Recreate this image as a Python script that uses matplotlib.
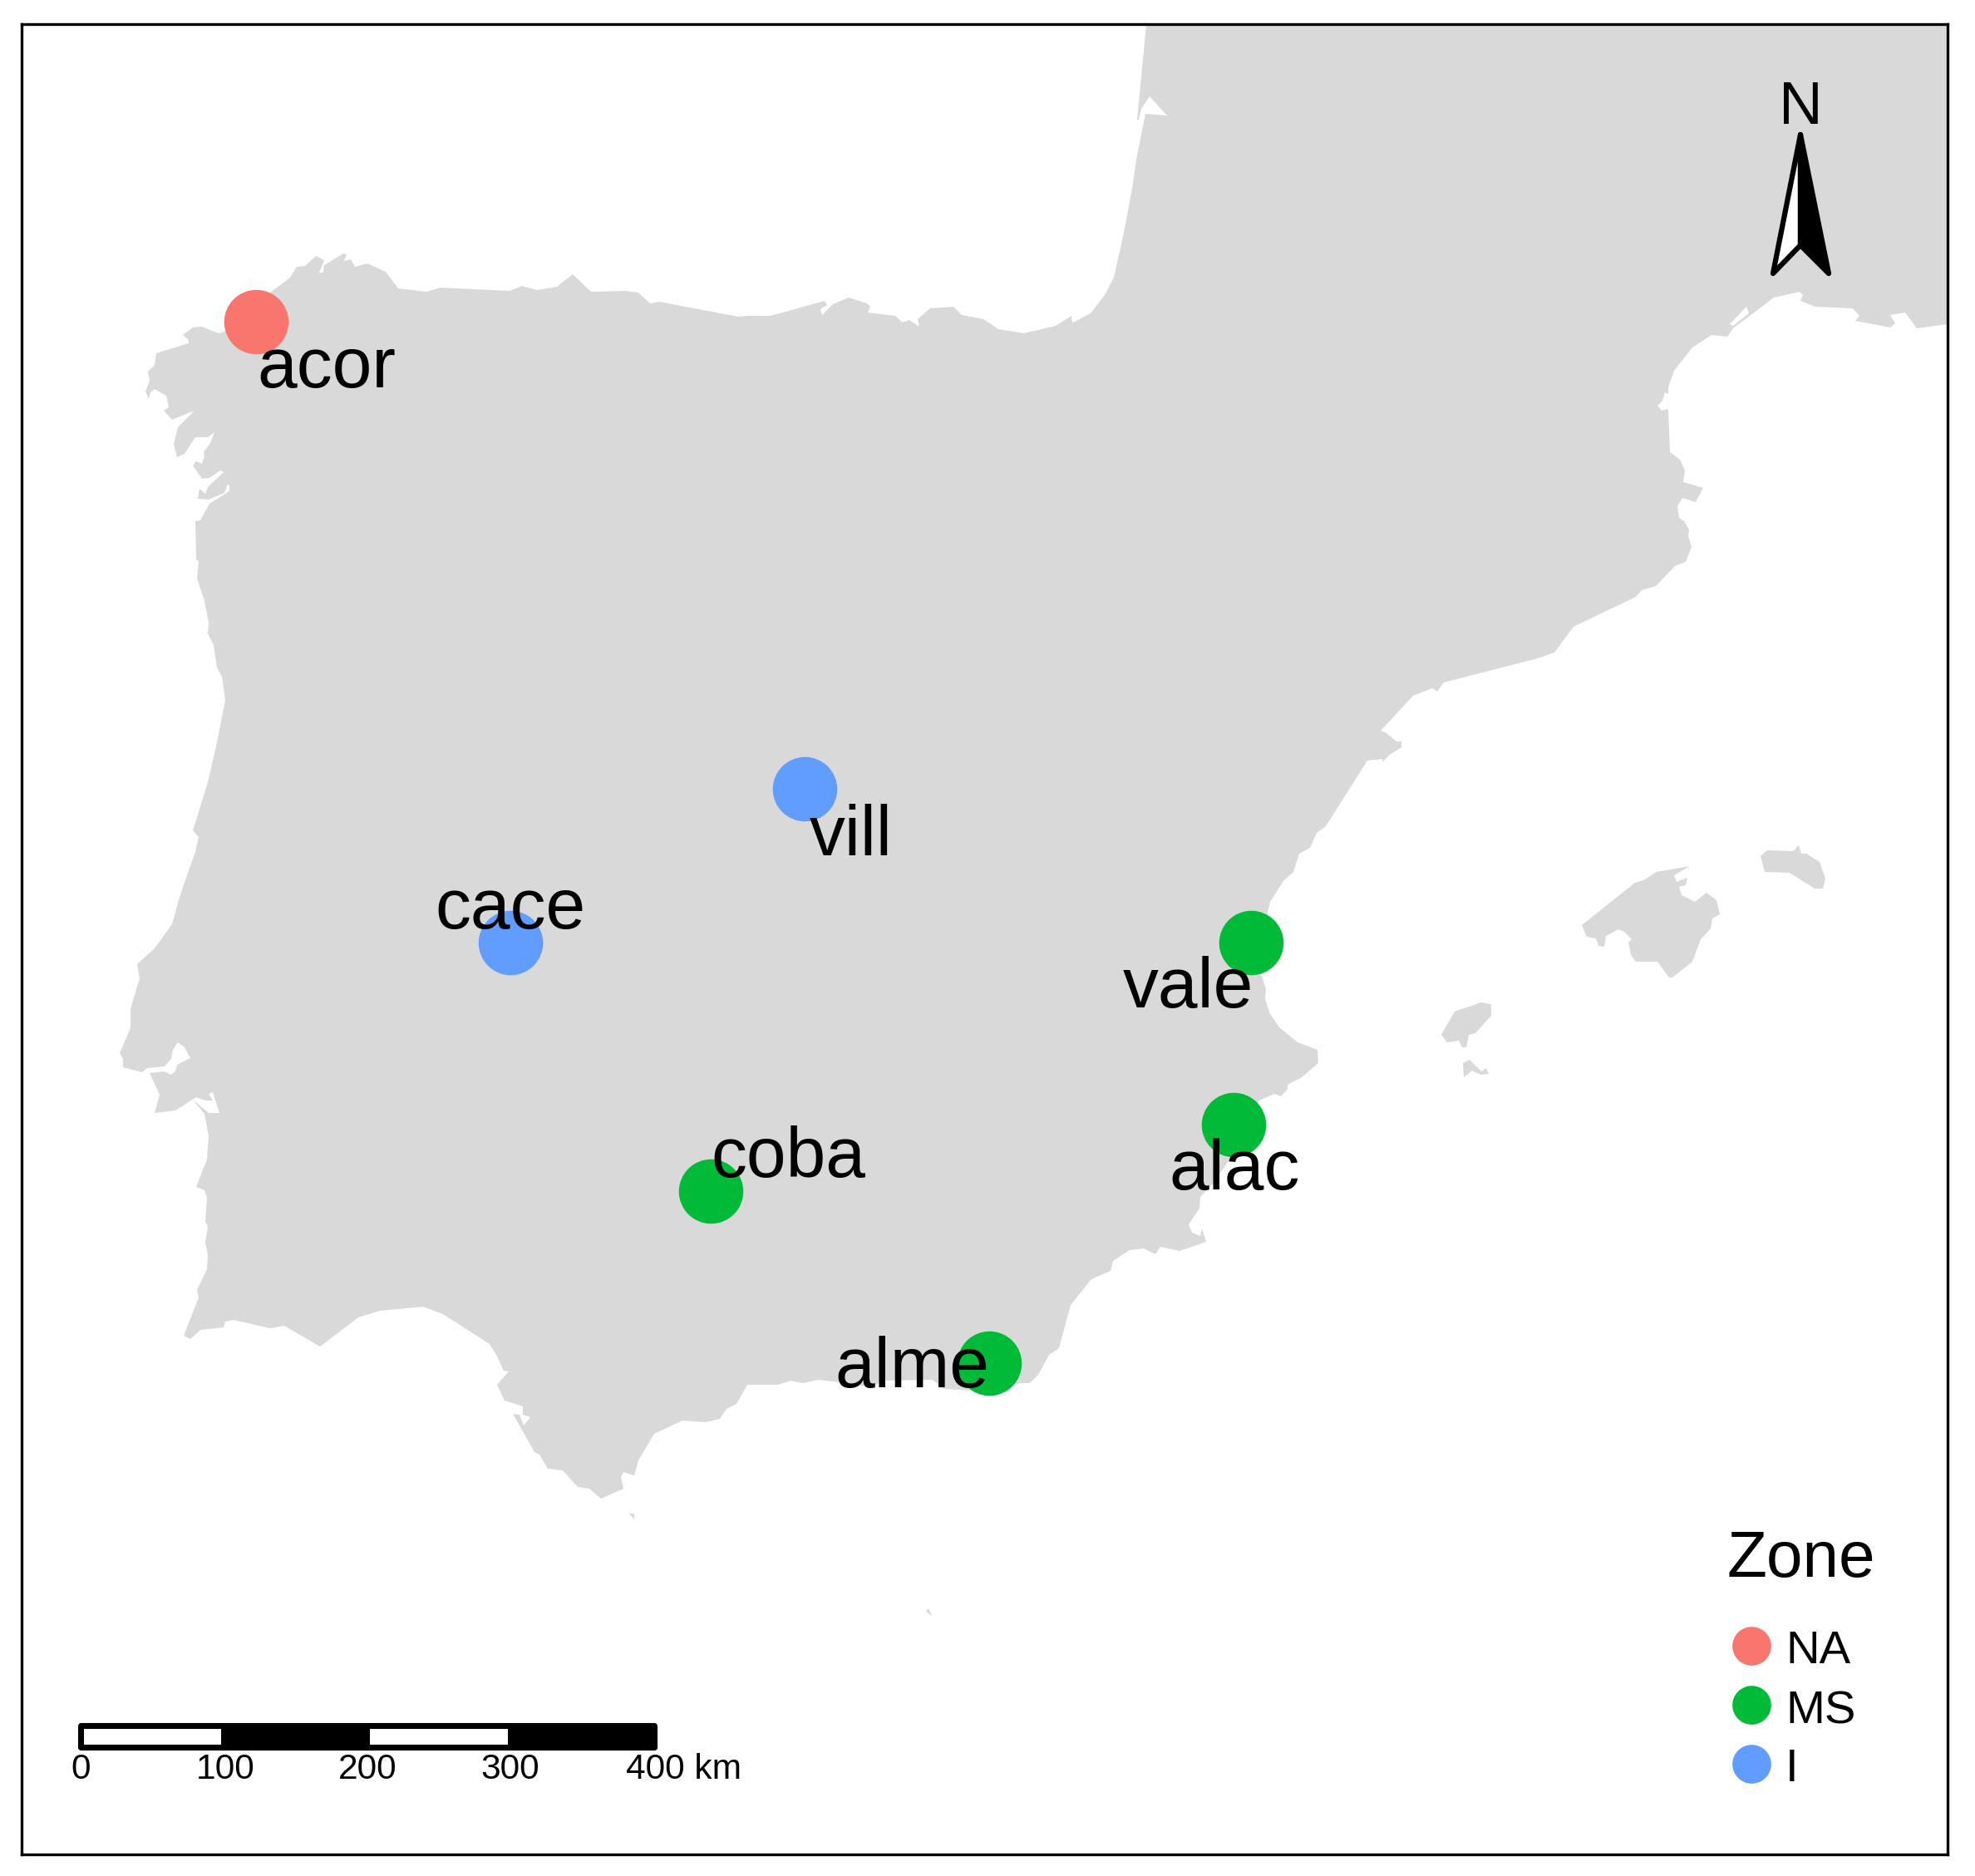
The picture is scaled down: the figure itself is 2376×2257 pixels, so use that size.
import matplotlib
matplotlib.use("Agg")
import matplotlib.pyplot as plt
from matplotlib.patches import Polygon, Rectangle

plt.rcParams["font.family"] = ["Liberation Sans"]

LAND_COLOR = "#D9D9D9"
FRAME = (25.5, 2343.0, 2231.0, 29.0)  # left, right, bottom, top in map units

# Coastline (map units, y grows southwards).
mainland = [
    (1380, 20), (1368, 144), (1370, 144), (1373, 131), (1383, 116), (1404, 139), (1378, 137),
    (1367, 192), (1362, 227), (1352, 280), (1340, 334), (1329, 355), (1312, 377), (1293, 387),
    (1290, 388), (1289, 380), (1270, 392), (1232, 401), (1201, 396), (1188, 387), (1183, 384),
    (1157, 379), (1147, 369), (1119, 371), (1112, 377), (1104, 384), (1106, 393), (1094, 385),
    (1086, 388), (1077, 380), (1044, 376), (1047, 369), (1043, 365), (1021, 358), (1002, 366),
    (989, 379), (987, 372), (995, 367), (992, 362), (938, 377), (926, 380), (900, 380),
    (888, 381), (793, 363), (782, 365), (768, 352), (752, 350), (711, 351), (689, 330),
    (670, 345), (646, 349), (628, 344), (613, 350), (530, 346), (513, 351), (479, 347),
    (464, 327), (442, 317), (427, 321), (422, 312), (414, 314), (417, 306), (413, 305),
    (390, 319), (389, 328), (384, 328), (390, 313), (380, 308), (367, 320), (357, 321),
    (349, 334), (326, 351), (270, 399), (263, 401), (243, 393), (232, 394), (220, 403),
    (227, 409), (227, 413), (188, 425), (186, 439), (178, 447), (180, 458), (175, 471),
    (179, 480), (181, 472), (186, 468), (200, 476), (203, 490), (197, 494), (207, 505),
    (234, 494), (214, 514), (209, 534), (213, 550), (222, 546), (235, 526), (250, 526),
    (258, 520), (253, 533), (245, 544), (246, 549), (243, 558), (236, 555), (232, 560),
    (243, 576), (252, 575), (265, 566), (269, 568), (250, 586), (247, 594), (240, 588),
    (238, 600), (251, 601), (270, 593), (273, 584), (276, 583), (276, 591), (252, 606),
    (241, 626), (235, 627), (236, 673), (239, 675), (237, 696), (246, 723), (251, 749),
    (250, 762), (257, 776), (261, 803), (267, 814), (271, 842), (260, 898), (250, 941),
    (238, 980), (232, 999), (239, 1007), (235, 1025), (217, 1076), (207, 1112), (186, 1141),
    (165, 1160), (168, 1177), (157, 1214), (157, 1237), (144, 1267), (148, 1274), (148, 1284),
    (171, 1290), (177, 1285), (198, 1283), (206, 1274), (208, 1263), (214, 1254), (222, 1260),
    (229, 1273), (213, 1281), (211, 1289), (205, 1293), (198, 1289), (180, 1291), (192, 1317),
    (186, 1339), (211, 1336), (236, 1320), (247, 1324), (256, 1324), (251, 1316), (256, 1314),
    (264, 1339), (251, 1339), (232, 1323), (246, 1340), (251, 1366), (249, 1395), (236, 1428),
    (246, 1432), (249, 1441), (247, 1470), (250, 1475), (247, 1495), (250, 1510), (249, 1527),
    (237, 1552), (239, 1561), (221, 1607), (229, 1611), (241, 1600), (269, 1597), (271, 1590),
    (281, 1588), (325, 1598), (342, 1595), (385, 1620), (431, 1585), (457, 1577), (509, 1572),
    (533, 1581), (589, 1617), (597, 1630), (606, 1649), (612, 1650), (598, 1666), (607, 1685),
    (629, 1692), (629, 1702), (638, 1705), (630, 1715), (625, 1702), (617, 1701), (643, 1747),
    (649, 1750), (659, 1767), (677, 1769), (695, 1789), (709, 1791), (723, 1803), (750, 1791),
    (747, 1777), (750, 1771), (763, 1775), (768, 1757), (787, 1725), (821, 1709), (849, 1711),
    (866, 1707), (874, 1695), (886, 1689), (899, 1666), (936, 1666), (951, 1661), (966, 1664),
    (984, 1660), (1010, 1663), (1048, 1669), (1063, 1661), (1122, 1660), (1135, 1671),
    (1170, 1673), (1229, 1664), (1239, 1664), (1249, 1654), (1262, 1630), (1274, 1622),
    (1288, 1570), (1313, 1539), (1336, 1529), (1339, 1517), (1359, 1504), (1376, 1502),
    (1390, 1509), (1396, 1500), (1419, 1505), (1451, 1494), (1446, 1478), (1444, 1487),
    (1434, 1483), (1430, 1473), (1443, 1454), (1444, 1440), (1459, 1424), (1482, 1391),
    (1515, 1324), (1533, 1316), (1541, 1319), (1549, 1310), (1549, 1305), (1566, 1296),
    (1586, 1279), (1585, 1263), (1561, 1254), (1539, 1236), (1528, 1220), (1522, 1202),
    (1523, 1190), (1517, 1172), (1525, 1097), (1528, 1085), (1544, 1060), (1556, 1049),
    (1563, 1027), (1576, 1020), (1584, 1002), (1595, 994), (1645, 915), (1663, 913),
    (1663, 917), (1672, 908), (1686, 899), (1686, 892), (1680, 892), (1668, 882), (1661, 879),
    (1700, 837), (1723, 828), (1729, 832), (1737, 821), (1850, 792), (1870, 785), (1893, 754),
    (1968, 718), (1975, 710), (1992, 705), (2015, 681), (2028, 676), (2035, 658), (2031, 645),
    (2032, 637), (2026, 627), (2020, 623), (2018, 609), (2024, 599), (2040, 604), (2049, 587),
    (2025, 580), (2027, 566), (2021, 553), (2009, 544), (2007, 494), (2006, 492), (1999, 494),
    (1994, 488), (2000, 482), (2003, 472), (2007, 474), (2007, 466), (2014, 446), (2036, 418),
    (2059, 403), (2078, 405), (2085, 395), (2134, 358), (2165, 351), (2169, 355), (2166, 362),
    (2184, 369), (2229, 371), (2237, 380), (2232, 386), (2274, 394), (2280, 389), (2274, 379),
    (2292, 376), (2306, 395), (2350, 389), (2350, 20),
]
lagoon = [(2081, 390), (2101, 369), (2104, 377), (2085, 392)]
mallorca = [
    (1903, 1113), (1909, 1127), (1920, 1129), (1923, 1138), (1930, 1139), (1932, 1126),
    (1947, 1118), (1954, 1121), (1963, 1130), (1959, 1134), (1962, 1149), (1968, 1157),
    (1994, 1157), (2008, 1176), (2012, 1176), (2036, 1157), (2046, 1130), (2058, 1117),
    (2060, 1105), (2069, 1100), (2065, 1083), (2053, 1074), (2039, 1085), (2023, 1077),
    (2020, 1067), (2028, 1065), (2030, 1056), (2017, 1061), (2014, 1053), (2033, 1042),
    (1993, 1049), (1977, 1059), (1967, 1062),
]
menorca = [
    (2118, 1030), (2123, 1049), (2153, 1050), (2183, 1069), (2193, 1069), (2196, 1057),
    (2189, 1037), (2173, 1027), (2167, 1027), (2164, 1017), (2157, 1024), (2126, 1023),
]
ibiza = [
    (1734, 1245), (1741, 1254), (1755, 1252), (1759, 1260), (1764, 1260), (1767, 1245),
    (1775, 1243), (1794, 1222), (1794, 1208), (1782, 1206), (1750, 1217),
]
formentera = [
    (1760, 1279), (1761, 1296), (1771, 1288), (1781, 1293), (1791, 1292), (1788, 1285),
    (1782, 1289), (1768, 1275),
]
ceuta = [(757, 1821), (763, 1821), (763, 1828)]
alboran = [(1114, 1939), (1117, 1935), (1121, 1944)]

# Sampling sites.
site_names = ["acor", "cace", "vill", "coba", "alme", "alac", "vale"]
site_zones = ["NA", "I", "I", "MS", "MS", "MS", "MS"]
site_x = [308, 614, 968, 854.5, 1190, 1484, 1505]
site_y = [387, 1134, 949, 1433, 1640, 1353, 1134]
label_x = [393, 614, 1024, 948, 1097, 1485, 1429]
label_y = [466, 1117, 1029, 1416, 1669, 1431, 1212]

# Legend.
zone_names = ["NA", "MS", "I"]
zone_colors = {"NA": "#F8766D", "MS": "#00BA38", "I": "#619CFF"}
zone_marker_y = [1980, 2051, 2122]
zone_label_y = [2001, 2073, 2143]

# Scale bar.
scale_labels = ["0", "100", "200", "300"]
scale_label_x = [97, 271, 442, 614]
scale_edges = [96.5, 266, 445, 611, 787]

# North arrow.
arrow_left = [(2166, 162), (2133, 329), (2166, 295)]
arrow_right = [(2166, 162), (2200, 329), (2166, 295)]


def main():
    fig = plt.figure(figsize=(2376 / 300, 2257 / 300), dpi=300)
    left, right, bottom, top = FRAME
    ax = fig.add_axes([left / 2376, 1 - bottom / 2257, (right - left) / 2376, (bottom - top) / 2257])
    ax.set_xlim(left, right)
    ax.set_ylim(bottom, top)
    ax.set_xticks([])
    ax.set_yticks([])
    for spine in ax.spines.values():
        spine.set_linewidth(0.8)
        spine.set_zorder(10)

    # Land.
    for shape in [mainland, mallorca, menorca, ibiza, formentera, ceuta, alboran]:
        ax.add_patch(Polygon(shape, closed=True, facecolor=LAND_COLOR, edgecolor="none", zorder=1))
    ax.add_patch(Polygon(lagoon, closed=True, facecolor="white", edgecolor="none", zorder=1.5))

    # Sites and their labels.
    for x, y, zone in zip(site_x, site_y, site_zones):
        ax.plot(x, y, "o", ms=18.6, mew=0, color=zone_colors[zone], zorder=3)
    for name, x, y in zip(site_names, label_x, label_y):
        ax.text(x, y, name, fontsize=20.6, ha="center", va="baseline", zorder=4)

    # Legend.
    ax.text(2078, 1897, "Zone", fontsize=18.8, ha="left", va="baseline", zorder=4)
    for zone, my, ly in zip(zone_names, zone_marker_y, zone_label_y):
        ax.plot(2107, my, "o", ms=11.2, mew=0, color=zone_colors[zone], zorder=3)
        ax.text(2148, ly, zone, fontsize=13.5, ha="left", va="baseline", zorder=4)

    # Scale bar.
    for i in range(len(scale_edges) - 1):
        ax.add_patch(Rectangle((scale_edges[i], 2076), scale_edges[i + 1] - scale_edges[i], 26,
                               facecolor="white" if i % 2 == 0 else "black", edgecolor="none", zorder=3))
    ax.add_patch(Rectangle((scale_edges[0], 2076), scale_edges[-1] - scale_edges[0], 26,
                           facecolor="none", edgecolor="black", linewidth=1.7, joinstyle="round", zorder=3.5))
    for label, x in zip(scale_labels, scale_label_x):
        ax.text(x, 2140, label, fontsize=10.2, ha="center", va="baseline", zorder=4)
    ax.text(753, 2140, "400 km", fontsize=10.2, ha="left", va="baseline", zorder=4)

    # North arrow.
    ax.add_patch(Polygon(arrow_left, closed=True, facecolor="white", edgecolor="black",
                         linewidth=1.5, joinstyle="round", zorder=3))
    ax.add_patch(Polygon(arrow_right, closed=True, facecolor="black", edgecolor="black",
                         linewidth=1.5, joinstyle="round", zorder=3))
    ax.text(2166, 149, "N", fontsize=17.5, ha="center", va="baseline", zorder=4)

    fig.savefig("out.png", dpi=300, facecolor="white")


main()
